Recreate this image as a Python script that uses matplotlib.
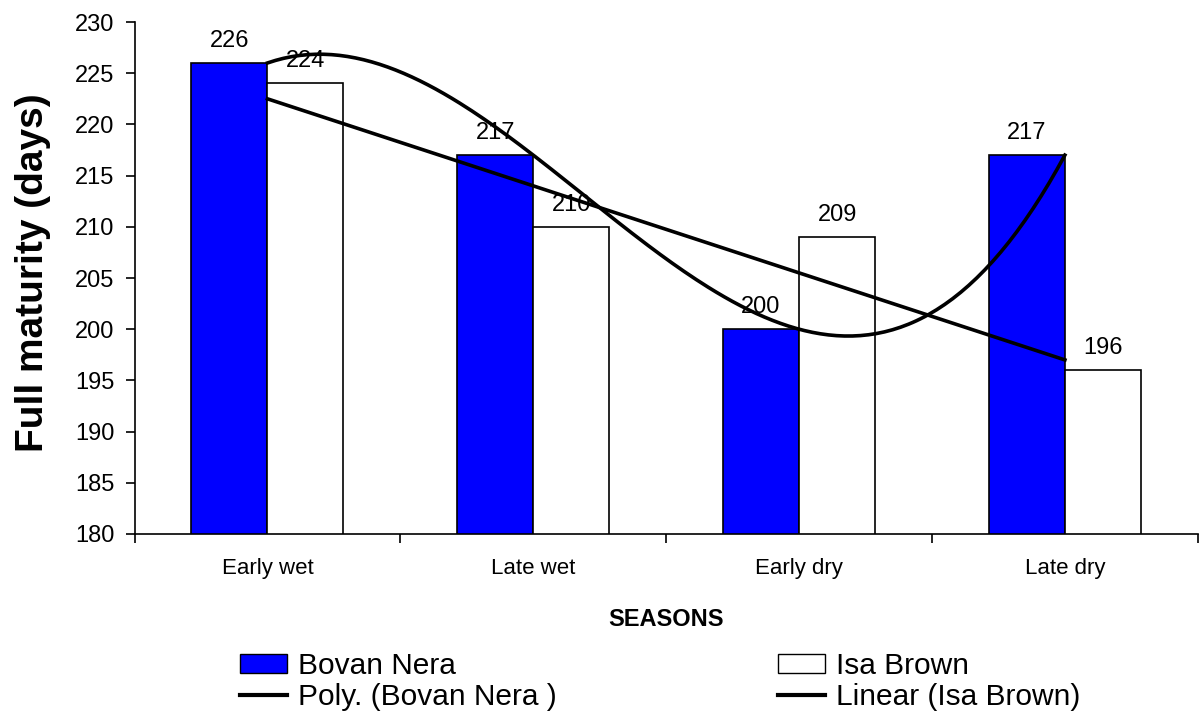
import numpy as np
import matplotlib.pyplot as plt
from matplotlib.patches import Patch
from matplotlib.lines import Line2D

plt.rcParams['font.family'] = ['Liberation Sans', 'DejaVu Sans']

# data
seasons = ['Early wet', 'Late wet', 'Early dry', 'Late dry']
bovan_nera = [226, 217, 200, 217]
isa_brown = [224, 210, 209, 196]

fig = plt.figure(figsize=(11.99, 7.27), dpi=100)
ax = fig.add_axes([0.1122, 0.2655, 0.8868, 0.7042])

x = np.arange(len(seasons))
w = 0.286
ax.bar(x - w / 2, bovan_nera, w, color='#0000ff', edgecolor='black', linewidth=1.2, zorder=2)
ax.bar(x + w / 2, isa_brown, w, color='white', edgecolor='black', linewidth=1.2, zorder=2)

# data labels
for xi, v in zip(x, bovan_nera):
    ax.annotate(str(v), (xi - w / 2, v), xytext=(0, 8), textcoords='offset points',
                ha='center', va='bottom', fontsize=17)
for xi, v in zip(x, isa_brown):
    ax.annotate(str(v), (xi + w / 2, v), xytext=(0, 8), textcoords='offset points',
                ha='center', va='bottom', fontsize=17)

# trend lines (Excel style: polynomial order 3 and linear)
xs = np.linspace(0, 3, 200)
poly = np.polyfit(x, bovan_nera, 3)
lin = np.polyfit(x, isa_brown, 1)
ax.plot(xs, np.polyval(poly, xs), color='black', lw=2.6, zorder=3)
ax.plot(xs, np.polyval(lin, xs), color='black', lw=2.6, zorder=3)

ax.set_xlim(-0.5, 3.5)
ax.set_ylim(180, 230)
ax.set_yticks(range(180, 231, 5))
ax.tick_params(axis='y', labelsize=17, length=6.5, width=1.2, direction='out', pad=8)

ax.set_xticks(np.arange(-0.5, 3.6, 1))
ax.set_xticklabels([])
ax.tick_params(axis='x', which='major', length=6.5, width=1.2, direction='out')
ax.set_xticks(x, minor=True)
ax.set_xticklabels(seasons, minor=True)
ax.tick_params(axis='x', which='minor', length=0, labelsize=16, pad=17)

for s in ['top', 'right']:
    ax.spines[s].set_visible(False)
for s in ['left', 'bottom']:
    ax.spines[s].set_linewidth(1.2)

ax.set_ylabel('Full maturity (days)', fontsize=28, fontweight='bold')
ax.yaxis.set_label_coords(-0.0785, 0.51)
ax.set_xlabel('SEASONS', fontsize=17, fontweight='bold')
ax.xaxis.set_label_coords(0.5, -0.145)

handles = [
    Patch(facecolor='#0000ff', edgecolor='black', label='Bovan Nera'),
    Line2D([], [], color='black', lw=3, label='Poly. (Bovan Nera )'),
    Patch(facecolor='white', edgecolor='black', label='Isa Brown'),
    Line2D([], [], color='black', lw=3, label='Linear (Isa Brown)'),
]
fig.legend(handles=handles, ncol=2, loc='upper left', bbox_to_anchor=(240 / 1199, 1 - 652 / 727),
           frameon=False, fontsize=21.5, handlelength=1.57, handleheight=0.6,
           handletextpad=0.37, columnspacing=7.4, labelspacing=0.1,
           borderpad=0, borderaxespad=0)

fig.savefig('out.png', dpi=100)
